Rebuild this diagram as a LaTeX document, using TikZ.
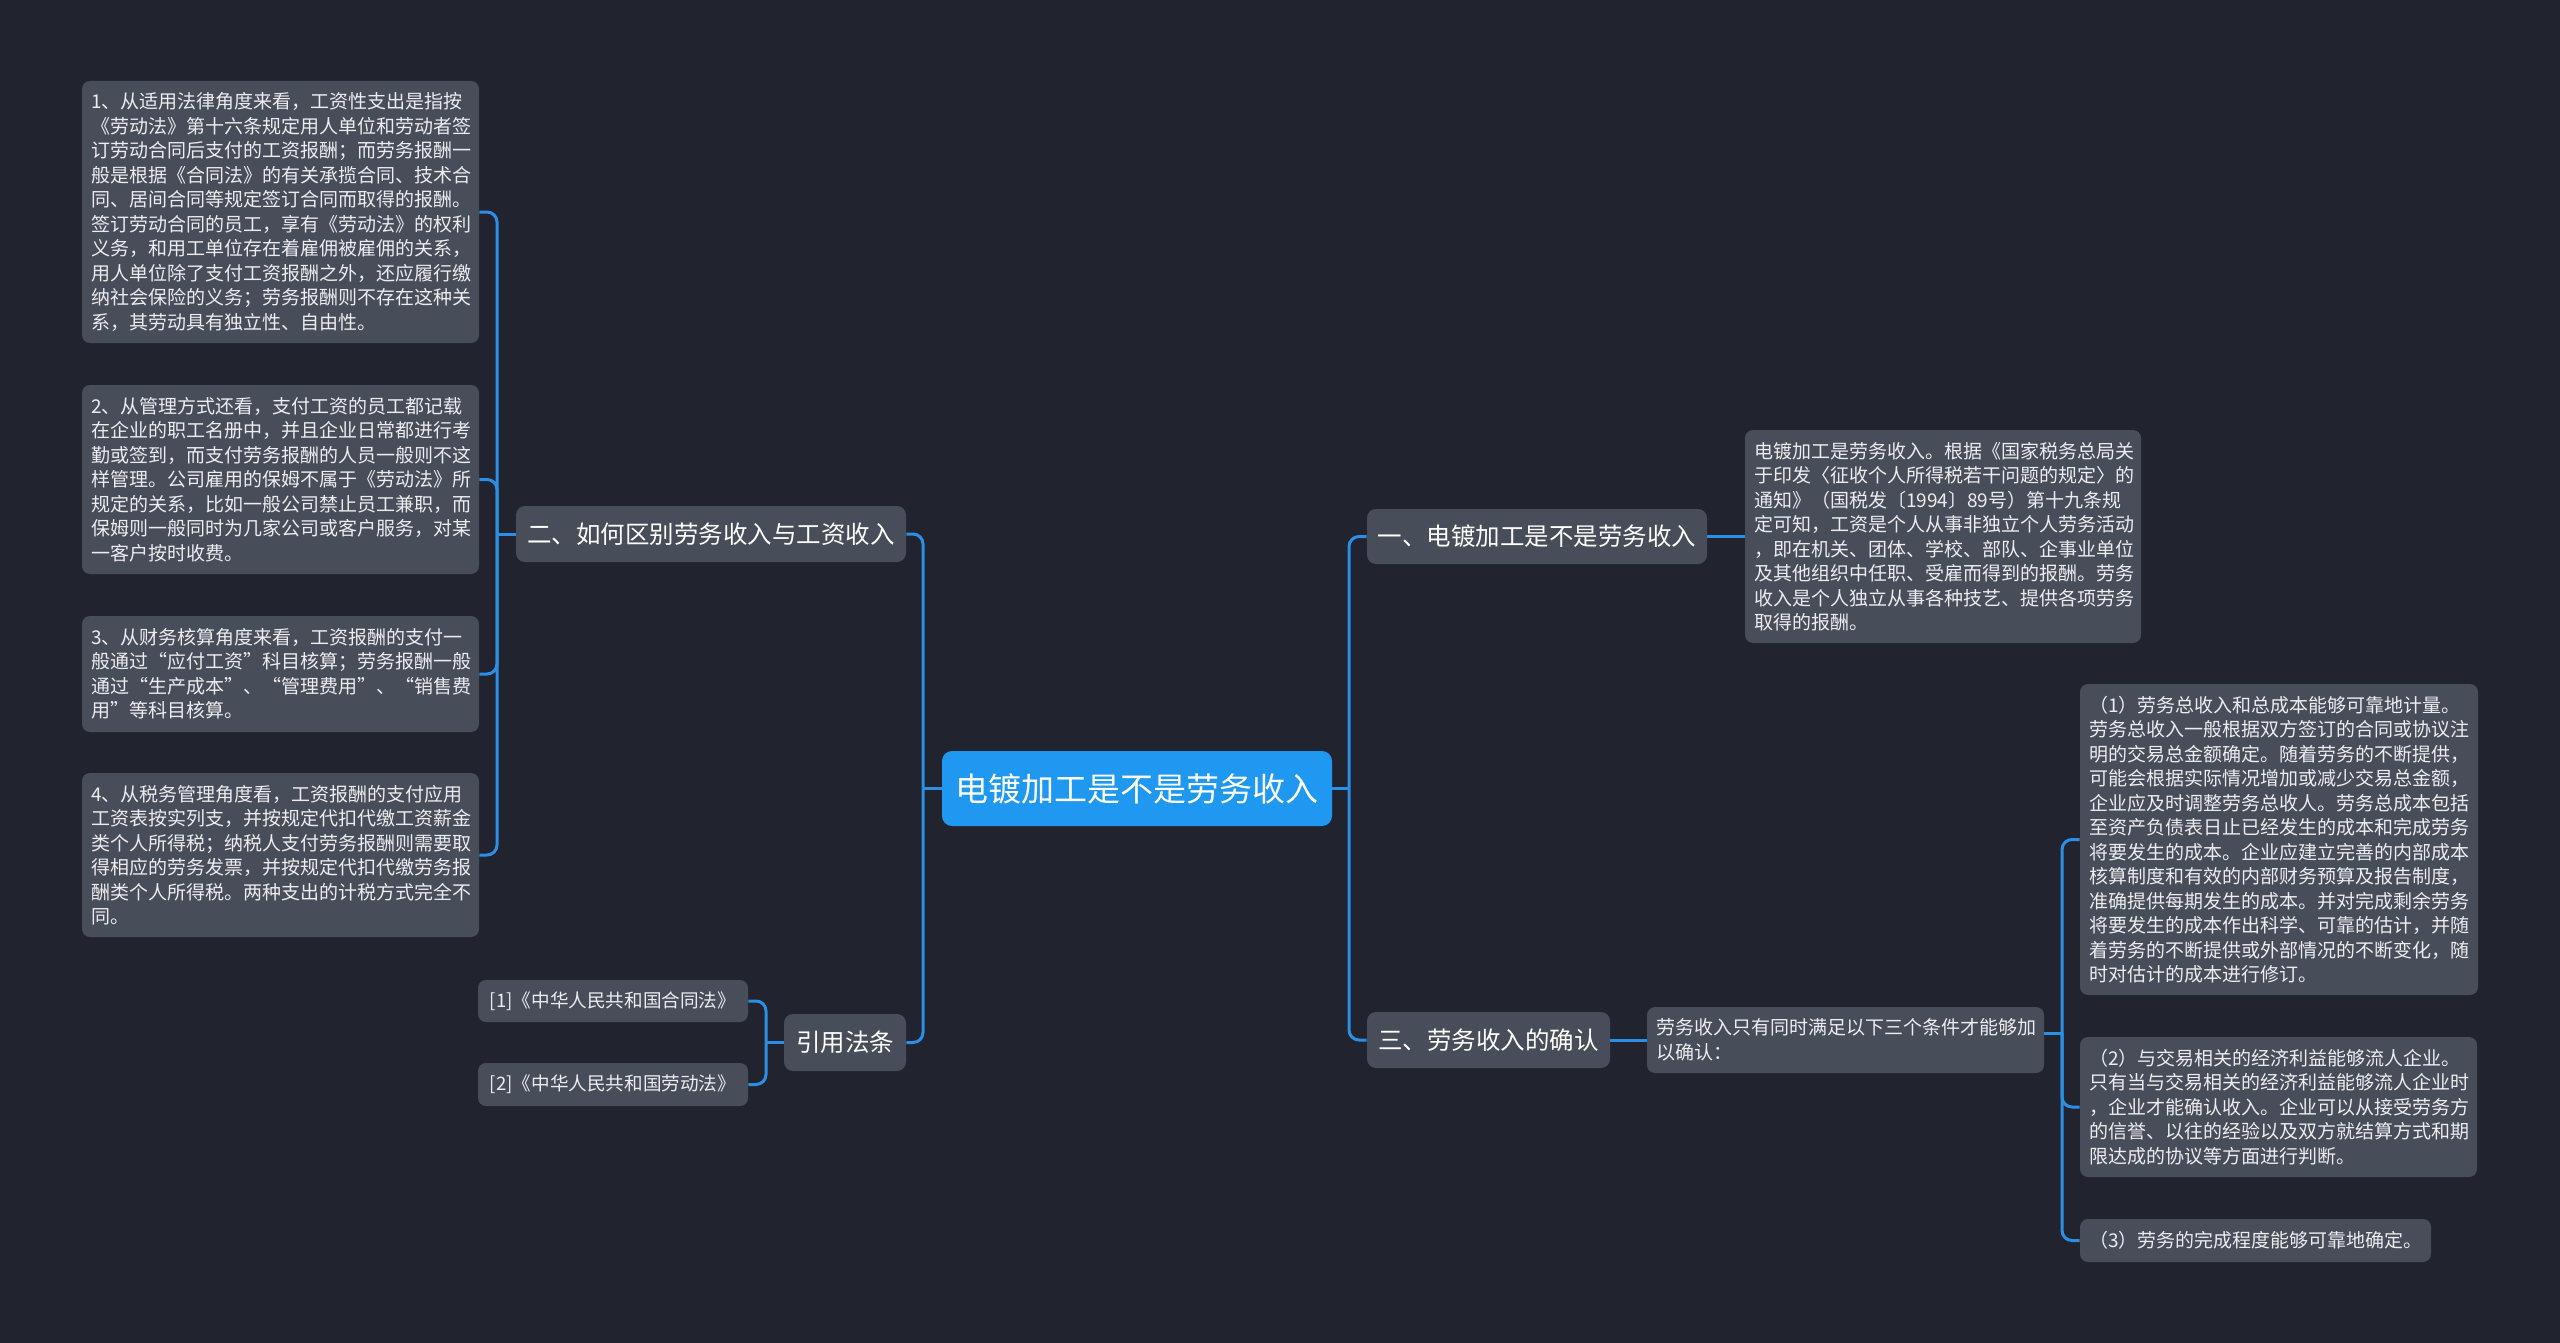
\documentclass[tikz,border=0pt]{standalone}
\usepackage{fontspec}
\setmainfont{Noto Sans CJK SC}
\definecolor{bg}{HTML}{21242E}
\definecolor{boxc}{HTML}{484D5A}
\definecolor{linec}{HTML}{2B8FE5}
\definecolor{rootc}{HTML}{1E98F0}
\definecolor{txt}{HTML}{ECEDEF}
\begin{document}
\begin{tikzpicture}[x=0.5pt,y=-0.5pt,
 conn/.style={draw=linec, line width=1.5pt, rounded corners=5pt},
 leaf/.style={fill=boxc, rounded corners=4pt, text=txt, inner xsep=4.5pt, inner ysep=0pt, align=left, font=\fontsize{9.5}{12.25}\selectfont},
 refbox/.style={fill=boxc, rounded corners=4pt, text=txt, inner sep=0pt, align=center, font=\fontsize{9.3}{11}\selectfont},
 branch/.style={fill=boxc, rounded corners=4.5pt, text=white, inner sep=0pt, align=center, font=\fontsize{12.25}{14}\selectfont},
 rootbox/.style={fill=rootc, rounded corners=5pt, text=white, inner sep=0pt, font=\fontsize{16.5}{19}\selectfont}]
\fill[bg] (0,0) rectangle (2560,1343);
\useasboundingbox (0,0) rectangle (2560,1343);

% central and branch nodes
\node[rootbox, minimum width=195pt, minimum height=37.5pt] (root) at (1137,788.5) {电镀加工是不是劳务收入};
\node[branch, minimum width=195pt, minimum height=28pt] (two) at (711,534) {二、如何区别劳务收入与工资收入};
\node[branch, minimum width=61pt, minimum height=28.5pt] (cite) at (845,1042.5) {引用法条};
\node[branch, minimum width=170pt, minimum height=27.5pt] (one) at (1537,536.5) {一、电镀加工是不是劳务收入};
\node[branch, minimum width=121.5pt, minimum height=28pt] (three) at (1488.5,1040) {三、劳务收入的确认};

% left leaves
\node[leaf, text width=189.5pt, minimum height=131pt] (b1) at (280.5,212) {1、从适用法律角度来看，工资性支出是指按\\%
《劳动法》第十六条规定用人单位和劳动者签\\%
订劳动合同后支付的工资报酬；而劳务报酬一\\%
般是根据《合同法》的有关承揽合同、技术合\\%
同、居间合同等规定签订合同而取得的报酬。\\%
签订劳动合同的员工，享有《劳动法》的权利\\%
义务，和用工单位存在着雇佣被雇佣的关系，\\%
用人单位除了支付工资报酬之外，还应履行缴\\%
纳社会保险的义务；劳务报酬则不存在这种关\\%
系，其劳动具有独立性、自由性。};
\node[leaf, text width=189.5pt, minimum height=94.5pt] (b2) at (280.5,479.5) {2、从管理方式还看，支付工资的员工都记载\\%
在企业的职工名册中，并且企业日常都进行考\\%
勤或签到，而支付劳务报酬的人员一般则不这\\%
样管理。公司雇用的保姆不属于《劳动法》所\\%
规定的关系，比如一般公司禁止员工兼职，而\\%
保姆则一般同时为几家公司或客户服务，对某\\%
一客户按时收费。};
\node[leaf, text width=189.5pt, minimum height=58pt] (b3) at (280.5,674) {3、从财务核算角度来看，工资报酬的支付一\\%
般通过“应付工资”科目核算；劳务报酬一般\\%
通过“生产成本”、“管理费用”、“销售费\\%
用”等科目核算。};
\node[leaf, text width=189.5pt, minimum height=82pt] (b4) at (280.5,855) {4、从税务管理角度看，工资报酬的支付应用\\%
工资表按实列支，并按规定代扣代缴工资薪金\\%
类个人所得税；纳税人支付劳务报酬则需要取\\%
得相应的劳务发票，并按规定代扣代缴劳务报\\%
酬类个人所得税。两种支出的计税方式完全不\\%
同。};

% references
\node[refbox, minimum width=135pt, minimum height=21pt] (r1) at (613,1001) {[1]《中华人民共和国合同法》};
\node[refbox, minimum width=135pt, minimum height=21.5pt] (r2) at (613,1084.5) {[2]《中华人民共和国劳动法》};

% right leaves
\node[leaf, text width=189pt, minimum height=106.5pt] (t1) at (1943,536.5) {电镀加工是劳务收入。根据《国家税务总局关\\%
于印发〈征收个人所得税若干问题的规定〉的\\%
通知》（国税发〔1994〕89号）第十九条规\\%
定可知，工资是个人从事非独立个人劳务活动\\%
，即在机关、团体、学校、部队、企事业单位\\%
及其他组织中任职、受雇而得到的报酬。劳务\\%
收入是个人独立从事各种技艺、提供各项劳务\\%
取得的报酬。};
\node[leaf, text width=189.5pt, minimum height=33pt] (lw) at (1845.5,1040) {劳务收入只有同时满足以下三个条件才能够加\\%
以确认：};
\node[leaf, text width=190pt, minimum height=155.5pt] (c1) at (2279,839.5) {（1）劳务总收入和总成本能够可靠地计量。\\%
劳务总收入一般根据双方签订的合同或协议注\\%
明的交易总金额确定。随着劳务的不断提供，\\%
可能会根据实际情况增加或减少交易总金额，\\%
企业应及时调整劳务总收人。劳务总成本包括\\%
至资产负债表日止已经发生的成本和完成劳务\\%
将要发生的成本。企业应建立完善的内部成本\\%
核算制度和有效的内部财务预算及报告制度，\\%
准确提供每期发生的成本。并对完成剩余劳务\\%
将要发生的成本作出科学、可靠的估计，并随\\%
着劳务的不断提供或外部情况的不断变化，随\\%
时对估计的成本进行修订。};
\node[leaf, text width=189.5pt, minimum height=70pt] (c2) at (2278.5,1107) {（2）与交易相关的经济利益能够流人企业。\\%
只有当与交易相关的经济利益能够流人企业时\\%
，企业才能确认收入。企业可以从接受劳务方\\%
的信誉、以往的经验以及双方就结算方式和期\\%
限达成的协议等方面进行判断。};
\node[leaf, text width=166.5pt, minimum height=21.5pt] (c3) at (2255.5,1240.5) {（3）劳务的完成程度能够可靠地确定。};

% connectors
\coordinate (jL) at (923,788.5);
\coordinate (jR) at (1349,788.5);
\coordinate (jA) at (497,534);
\coordinate (jC) at (766,1042.5);
\coordinate (jW) at (2062,1033);
\draw[conn] (root.west) -- (jL);
\draw[conn] (two.east) -| (jL);
\draw[conn] (cite.east) -| (jL);
\draw[conn] (root.east) -- (jR);
\draw[conn] (one.west) -| (jR);
\draw[conn] (three.west) -| (jR);
\draw[conn] (one.east) -- (t1.west);
\draw[conn] (three.east) -- (lw.west);
\draw[conn] ([yshift=3.5pt]lw.east) -- (jW);
\draw[conn] (jW) |- (c1.west);
\draw[conn] (jW) |- (c2.west);
\draw[conn] (jW) |- (c3.west);
\draw[conn] (two.west) -- (jA);
\draw[conn] (jA) |- (b1.east);
\draw[conn] (jA) |- (b2.east);
\draw[conn] (jA) |- (b3.east);
\draw[conn] (jA) |- (b4.east);
\draw[conn] (cite.west) -- (jC);
\draw[conn] (jC) |- (r1.east);
\draw[conn] (jC) |- (r2.east);
\end{tikzpicture}
\end{document}
